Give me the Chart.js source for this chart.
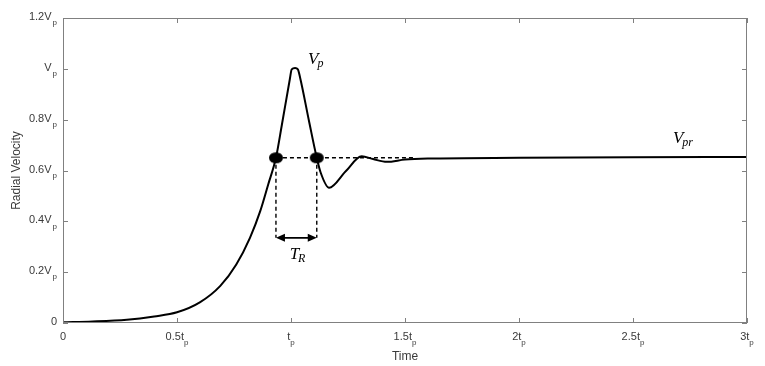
<!DOCTYPE html>
<html>
<head>
<meta charset="utf-8">
<script src="https://cdn.jsdelivr.net/npm/chart.js@4"></script>
<style>
  html, body { margin: 0; padding: 0; background: #fff; }
  #wrap { width: 765px; height: 366px; position: relative; }
</style>
</head>
<body>
<div id="wrap"><canvas id="chart"></canvas></div>
<script>
// response curve (time in t_p, velocity in V_p)
const timeVals = [0, 0.13, 0.28, 0.4, 0.5, 0.6, 0.69, 0.76, 0.82, 0.865, 0.9, 0.934, 0.96, 0.995, 1.003, 1.018, 1.03, 1.04, 1.08, 1.113, 1.13, 1.167, 1.24, 1.31, 1.36, 1.42, 1.5, 1.6, 2.0, 2.5, 3.0];
const velocity = [0.003, 0.006, 0.013, 0.026, 0.042, 0.081, 0.146, 0.23, 0.335, 0.44, 0.545, 0.65, 0.78, 0.96, 0.998, 1.003, 0.998, 0.965, 0.79, 0.65, 0.592, 0.532, 0.597, 0.656, 0.645, 0.634, 0.643, 0.647, 0.65, 0.652, 0.653];

// markers
const crossTimes = [0.934, 1.113];
const crossLevel = 0.65;
const dashEndTime = 1.535;
const arrowLevel = 0.335;

// ticks
const xTickVals = [0, 0.5, 1, 1.5, 2, 2.5, 3];
const xTickMain = ['0', '0.5t', 't', '1.5t', '2t', '2.5t', '3t'];
const xTickSub = ['', 'p', 'p', 'p', 'p', 'p', 'p'];
const yTickVals = [0, 0.2, 0.4, 0.6, 0.8, 1.0, 1.2];
const yTickMain = ['0', '0.2V', '0.4V', '0.6V', '0.8V', 'V', '1.2V'];
const yTickSub = ['', 'p', 'p', 'p', 'p', 'p', 'p'];

const xTitle = 'Time';
const yTitle = 'Radial Velocity';

// ellipse marker for the crossing dots
function ellipseMarker() {
  const c = document.createElement('canvas');
  c.width = 16; c.height = 13;
  const g = c.getContext('2d');
  g.fillStyle = '#000';
  g.beginPath();
  g.ellipse(8, 6.5, 7, 5.6, 0, 0, Math.PI * 2);
  g.fill();
  return c;
}

const curve = timeVals.map((t, i) => ({ x: t, y: velocity[i] }));
const dashStyle = { borderColor: '#000', borderWidth: 1.4, borderDash: [4, 3], pointRadius: 0, fill: false };

// draws the matlab style frame, tick labels and the text notes
const framePlugin = {
  id: 'frame',
  afterDraw(chart) {
    const ctx = chart.ctx;
    const xs = chart.scales.x, ys = chart.scales.y;
    const a = chart.chartArea;
    ctx.save();
    ctx.strokeStyle = '#808080';
    ctx.lineWidth = 1;
    ctx.strokeRect(a.left + 0.5, a.top + 0.5, a.right - a.left - 1, a.bottom - a.top - 1);

    // inward ticks on all 4 sides
    ctx.beginPath();
    xTickVals.forEach(v => {
      const px = Math.round(xs.getPixelForValue(v)) + 0.5;
      ctx.moveTo(px, a.bottom); ctx.lineTo(px, a.bottom - 5);
      ctx.moveTo(px, a.top); ctx.lineTo(px, a.top + 5);
    });
    yTickVals.forEach(v => {
      const py = Math.round(ys.getPixelForValue(v)) + 0.5;
      ctx.moveTo(a.left, py); ctx.lineTo(a.left + 5, py);
      ctx.moveTo(a.right, py); ctx.lineTo(a.right - 5, py);
    });
    ctx.stroke();

    const mainFont = '11px "Liberation Sans", Arial, sans-serif';
    const subFont = '8px "Liberation Sans", Arial, sans-serif';
    ctx.fillStyle = '#3a3a3a';
    ctx.textBaseline = 'middle';

    // x tick labels
    xTickVals.forEach((v, i) => {
      ctx.font = mainFont;
      const wm = ctx.measureText(xTickMain[i]).width;
      ctx.font = subFont;
      const ws = xTickSub[i] ? ctx.measureText(xTickSub[i]).width : 0;
      const left = xs.getPixelForValue(v) - (wm + ws) / 2;
      const y = a.bottom + 14;
      ctx.textAlign = 'left';
      ctx.font = mainFont;
      ctx.fillText(xTickMain[i], left, y);
      if (xTickSub[i]) {
        ctx.font = subFont;
        ctx.fillText(xTickSub[i], left + wm, y + 6);
      }
    });

    // y tick labels
    yTickVals.forEach((v, i) => {
      ctx.font = subFont;
      const ws = yTickSub[i] ? ctx.measureText(yTickSub[i]).width + 1 : 0;
      const right = a.left - 6;
      const y = ys.getPixelForValue(v);
      ctx.textAlign = 'right';
      ctx.font = mainFont;
      ctx.fillText(yTickMain[i], right - ws, y - 1);
      if (yTickSub[i]) {
        ctx.font = subFont;
        ctx.fillText(yTickSub[i], right, y + 5);
      }
    });

    // axis titles
    ctx.font = '12px "Liberation Sans", Arial, sans-serif';
    ctx.textAlign = 'center';
    ctx.fillText(xTitle, (a.left + a.right) / 2, a.bottom + 34);
    ctx.save();
    ctx.translate(17, (a.top + a.bottom) / 2);
    ctx.rotate(-Math.PI / 2);
    ctx.fillText(yTitle, 0, 0);
    ctx.restore();

    // arrow heads of the T_R span
    ctx.fillStyle = '#000';
    const ay = ys.getPixelForValue(arrowLevel);
    const ax1 = xs.getPixelForValue(crossTimes[0]);
    const ax2 = xs.getPixelForValue(crossTimes[1]);
    ctx.beginPath();
    ctx.moveTo(ax1, ay); ctx.lineTo(ax1 + 9, ay - 4); ctx.lineTo(ax1 + 9, ay + 4); ctx.closePath();
    ctx.moveTo(ax2, ay); ctx.lineTo(ax2 - 9, ay - 4); ctx.lineTo(ax2 - 9, ay + 4); ctx.closePath();
    ctx.fill();

    // italic notes
    function note(main, sub, t, v) {
      const x = xs.getPixelForValue(t), y = ys.getPixelForValue(v);
      ctx.textAlign = 'left';
      ctx.textBaseline = 'alphabetic';
      ctx.font = 'italic 17px "Liberation Serif", "DejaVu Serif", serif';
      ctx.fillText(main, x, y);
      const w = ctx.measureText(main).width;
      ctx.font = 'italic 12px "Liberation Serif", "DejaVu Serif", serif';
      ctx.fillText(sub, x + w - 1, y + 3);
    }
    note('V', 'p', 1.075, 1.02);
    note('V', 'pr', 2.675, 0.708);
    note('T', 'R', 0.994, 0.25);
    ctx.restore();
  }
};

new Chart(document.getElementById('chart'), {
  type: 'line',
  data: {
    datasets: [
      Object.assign({ data: [{ x: crossTimes[0], y: crossLevel }, { x: dashEndTime, y: crossLevel }] }, dashStyle),
      Object.assign({ data: [{ x: crossTimes[0], y: crossLevel }, { x: crossTimes[0], y: arrowLevel }] }, dashStyle),
      Object.assign({ data: [{ x: crossTimes[1], y: crossLevel }, { x: crossTimes[1], y: arrowLevel }] }, dashStyle),
      { data: [{ x: crossTimes[0] + 0.02, y: arrowLevel }, { x: crossTimes[1] - 0.02, y: arrowLevel }], borderColor: '#000', borderWidth: 1.6, pointRadius: 0 },
      {
        data: curve,
        borderColor: '#000',
        borderWidth: 2,
        pointRadius: 0,
        cubicInterpolationMode: 'monotone'
      },
      {
        type: 'scatter',
        data: crossTimes.map(t => ({ x: t, y: crossLevel })),
        pointStyle: ellipseMarker(),
        pointRadius: 7
      }
    ]
  },
  options: {
    responsive: true,
    maintainAspectRatio: false,
    animation: false,
    layout: { padding: { left: 63, right: 18, top: 18, bottom: 43 } },
    plugins: { legend: { display: false }, tooltip: { enabled: false } },
    scales: {
      x: { type: 'linear', min: 0, max: 3, display: false },
      y: { type: 'linear', min: 0, max: 1.2, display: false }
    }
  },
  plugins: [framePlugin]
});
</script>
</body>
</html>
